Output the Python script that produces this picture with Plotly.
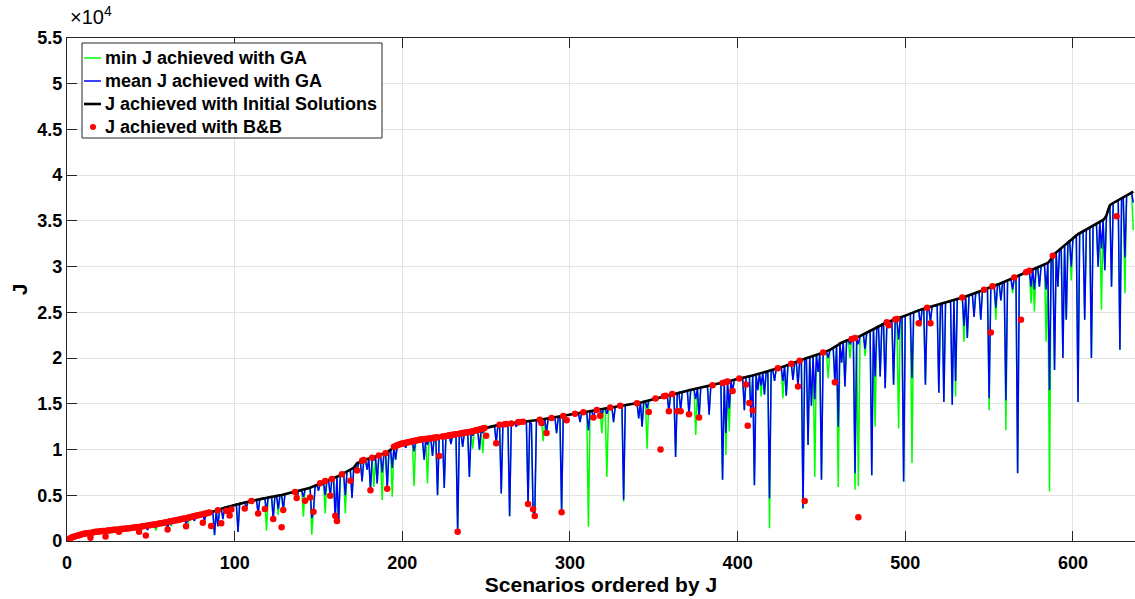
import plotly.graph_objects as go

# ---------------- data (J values in thousands) ----------------
J_init = [
0.20,0.30,0.40,0.46,0.52,0.57,0.62,0.67,0.75,0.79,
0.82,0.85,0.88,0.91,0.94,0.97,1.00,1.02,1.04,1.06,
1.08,1.10,1.12,1.14,1.16,1.18,1.20,1.22,1.24,1.26,
1.28,1.30,1.32,1.34,1.36,1.38,1.40,1.42,1.45,1.47,
1.50,1.52,1.55,1.57,1.60,1.63,1.66,1.69,1.72,1.75,
1.78,1.81,1.84,1.87,1.90,1.93,1.96,2.00,2.04,2.08,
2.12,2.16,2.20,2.24,2.27,2.30,2.34,2.38,2.42,2.46,
2.50,2.54,2.58,2.63,2.68,2.73,2.77,2.81,2.85,2.89,
2.93,2.97,3.01,3.06,3.11,3.16,3.21,3.26,3.31,3.36,
3.45,3.55,3.60,3.65,3.70,3.75,3.80,3.86,3.92,3.98,
4.03,4.08,4.12,4.15,4.18,4.22,4.26,4.30,4.34,4.38,
4.43,4.48,4.52,4.56,4.60,4.64,4.68,4.72,4.76,4.80,
4.83,4.86,4.89,4.92,4.95,4.98,5.01,5.04,5.08,5.12,
5.16,5.20,5.24,5.28,5.32,5.36,5.40,5.44,5.49,5.54,
5.60,5.66,5.71,5.76,5.83,5.90,5.98,6.06,6.14,6.22,
6.31,6.40,6.48,6.55,6.62,6.68,6.73,6.78,6.85,6.93,
7.02,7.11,7.20,7.30,7.40,7.50,7.60,7.70,7.80,7.90,
8.00,8.25,8.50,8.60,8.70,8.78,8.86,8.91,8.96,9.00,
9.05,9.11,9.17,9.23,9.29,9.35,9.41,9.47,9.53,9.60,
9.70,9.85,10.00,10.15,10.30,10.38,10.46,10.54,10.60,10.65,
10.70,10.74,10.78,10.82,10.86,10.90,10.94,10.98,11.02,11.06,
11.10,11.12,11.14,11.16,11.18,11.20,11.22,11.25,11.28,11.31,
11.34,11.37,11.40,11.43,11.46,11.49,11.52,11.55,11.58,11.61,
11.64,11.67,11.70,11.73,11.76,11.80,11.83,11.86,11.89,11.92,
11.95,12.00,12.05,12.10,12.15,12.20,12.25,12.30,12.35,12.40,
12.45,12.50,12.55,12.58,12.61,12.64,12.67,12.70,12.72,12.74,
12.76,12.78,12.80,12.83,12.86,12.89,12.92,12.95,12.98,13.00,
13.02,13.04,13.06,13.08,13.10,13.12,13.14,13.16,13.18,13.20,
13.22,13.25,13.28,13.31,13.34,13.37,13.40,13.43,13.46,13.49,
13.52,13.55,13.58,13.61,13.64,13.67,13.70,13.73,13.76,13.80,
13.84,13.88,13.92,13.96,14.00,14.03,14.06,14.09,14.12,14.15,
14.18,14.21,14.24,14.27,14.30,14.33,14.36,14.40,14.44,14.48,
14.51,14.54,14.57,14.60,14.63,14.66,14.69,14.72,14.75,14.78,
14.81,14.84,14.87,14.90,14.93,14.96,14.99,15.02,15.04,15.06,
15.08,15.13,15.18,15.23,15.28,15.33,15.38,15.43,15.48,15.53,
15.58,15.63,15.68,15.73,15.78,15.83,15.88,15.93,15.98,16.03,
16.08,16.12,16.16,16.20,16.24,16.28,16.32,16.36,16.40,16.44,
16.48,16.52,16.56,16.60,16.64,16.68,16.72,16.76,16.80,16.84,
16.88,16.92,16.96,17.00,17.04,17.08,17.12,17.16,17.20,17.24,
17.28,17.33,17.38,17.43,17.48,17.53,17.58,17.63,17.68,17.73,
17.78,17.82,17.86,17.90,17.94,17.98,18.02,18.06,18.10,18.14,
18.19,18.24,18.29,18.34,18.39,18.44,18.49,18.54,18.59,18.64,
18.70,18.76,18.82,18.88,18.94,19.00,19.06,19.12,19.18,19.24,
19.30,19.37,19.44,19.51,19.58,19.65,19.72,19.79,19.86,19.93,
20.00,20.06,20.12,20.18,20.24,20.30,20.36,20.42,20.48,20.54,
20.60,20.66,20.72,20.80,20.90,21.00,21.10,21.20,21.30,21.45,
21.60,21.70,21.78,21.85,21.92,21.98,22.03,22.08,22.14,22.20,
22.26,22.32,22.40,22.50,22.60,22.70,22.80,22.90,23.00,23.10,
23.20,23.30,23.40,23.50,23.60,23.70,23.80,23.86,23.92,23.98,
24.04,24.10,24.16,24.22,24.28,24.34,24.40,24.46,24.52,24.60,
24.70,24.78,24.86,24.94,25.02,25.10,25.17,25.24,25.30,25.35,
25.40,25.45,25.50,25.55,25.60,25.65,25.70,25.75,25.80,25.85,
25.90,25.95,26.00,26.05,26.10,26.15,26.20,26.26,26.32,26.38,
26.44,26.50,26.56,26.62,26.68,26.74,26.80,26.86,26.92,26.98,
27.04,27.10,27.16,27.22,27.28,27.40,27.48,27.56,27.64,27.72,
27.80,27.86,27.92,27.98,28.04,28.10,28.18,28.26,28.34,28.42,
28.50,28.58,28.66,28.74,28.82,28.90,28.98,29.06,29.14,29.22,
29.30,29.38,29.46,29.54,29.62,29.70,29.77,29.84,29.91,29.98,
30.05,30.12,30.19,30.26,30.40,30.60,30.90,31.20,31.40,31.56,
31.72,31.88,32.04,32.20,32.36,32.52,32.68,32.84,33.00,33.15,
33.30,33.45,33.55,33.65,33.75,33.85,33.95,34.05,34.15,34.25,
34.35,34.45,34.55,34.65,34.75,34.85,34.95,35.10,35.30,35.60,
36.20,36.70,36.85,36.95,37.05,37.15,37.25,37.35,37.45,37.55,
37.65,37.75,37.85,37.95,38.05,38.20]

# GA dips: scenario number, mean J, min J (thousands); elsewhere GA equals the initial solution
dip_scen = [23,43,48,53,60,62,71,72,76,82,88,90,93,97,102,107,114,119,123,126,129,137,141,146,147,
            150,154,157,160,162,166,170,173,176,179,181,183,185,188,191,194,196,202,207,213,215,218,
            221,225,229,233,236,240,242,246,248,256,259,264,268,275,277,278,279,284,286,292,295,306,
            311,314,319,322,326,332,341,343,346,359,363,366,371,375,377,383,391,393,395,397,404,408,
            410,412,414,416,419,422,427,429,433,436,439,442,444,446,448,450,454,458,460,462,464,467,
            470,472,476,480,482,485,488,493,496,499,504,509,512,515,520,523,528,530,535,537,541,545,
            550,554,557,560,564,567,575,577,580,584,586,589,591,594,596,599,603,607,611,615,617,619,
            623,628,631,636]
dip_mean = [0.8,1.1,1.2,1.5,1.4,1.9,1.9,2.2,2.2,2.2,0.65,1.6,2.4,2.9,1.0,3.6,3.0,3.3,2.4,3.5,3.4,4.5,4.8,2.5,3.2,
            5.5,5.0,4.95,2.3,1.95,5.0,4.7,7.7,6.5,7.8,5.6,8.8,6.3,7.5,5.7,8.0,8.9,10.2,9.8,8.9,10.5,9.3,
            5.0,5.8,10.6,1.0,10.3,7.0,11.5,10.0,11.8,10.7,5.2,2.7,12.5,4.1,12.8,3.2,2.9,12.6,11.8,11.8,3.2,13.0,
            12.1,13.5,13.8,13.9,13.0,4.5,13.4,12.5,14.5,14.2,9.2,14.3,13.85,15.5,13.4,13.8,6.7,11.8,14.5,16.4,14.3,13.5,
            6.1,16.5,17.0,16.0,4.67,17.5,17.5,15.9,17.6,16.9,3.6,10.5,14.8,15.5,18.5,6.7,20.0,17.35,12.5,19.5,16.9,21.5,
            7.4,21.5,21.0,7.2,18.0,18.0,16.7,17.1,22.0,6.5,17.8,23.5,17.1,24.0,16.2,15.2,14.9,17.5,23.5,22.2,24.5,24.2,
            15.6,25.5,26.3,15.4,27.5,7.4,27.8,27.5,27.8,27.5,16.5,18.7,27.8,20.0,24.2,30.0,15.2,24.2,20.0,30.0,32.0,29.6,
            27.8,20.9,31.0,37.0]
dip_min = [0.8,1.1,1.2,1.15,1.4,1.6,1.9,1.4,2.2,2.2,0.62,1.6,2.4,2.9,1.0,3.6,3.0,1.13,2.4,2.84,3.4,4.5,2.66,0.7,3.2,
           5.5,3.0,4.95,2.3,1.95,3.0,4.7,7.7,6.5,7.8,5.6,5.9,6.3,4.5,5.7,4.84,8.9,10.2,6.0,8.9,6.3,9.3,
           5.0,5.8,10.6,1.0,10.3,7.0,10.1,9.9,9.6,10.7,5.2,2.7,12.5,4.0,12.8,3.2,2.75,10.9,11.8,11.8,3.15,13.0,
           1.56,13.5,11.8,7.0,13.0,4.3,13.4,12.5,10.1,14.2,9.2,14.3,13.85,11.6,13.4,13.8,6.7,9.4,12.0,16.4,14.3,13.5,
           6.1,16.5,15.8,16.0,1.39,17.5,15.6,15.9,17.6,16.9,3.5,10.5,14.8,7.0,18.5,6.7,17.8,17.35,5.9,19.5,16.9,20.0,
           5.6,6.0,20.2,7.2,12.5,18.0,16.7,17.1,12.3,6.5,8.5,23.5,17.1,24.0,16.2,15.2,14.9,15.8,21.8,22.2,24.5,24.2,
           14.3,24.2,26.3,12.1,27.1,7.4,26.0,25.1,27.8,21.8,5.4,18.7,27.8,20.0,24.2,28.5,15.2,24.2,20.0,30.0,25.3,29.6,
           27.8,20.9,27.1,34.0]

# B&B: scenarios where B&B equals the initial-solution value, and scenarios where it is lower
bb_equal_scen = (list(range(1, 86)) + [90, 110, 136, 151, 154, 158, 164, 176, 177, 182, 186, 190]
                 + list(range(195, 222)) + list(range(224, 250))
                 + [258, 261, 262, 265, 269, 270, 272, 282, 289, 296, 303, 308, 316, 324, 330, 340, 351,
                    356, 357, 361, 385, 391, 393, 394, 401, 424, 432, 437, 451, 468, 470, 489, 494, 495,
                    513, 534, 547, 552, 565, 572, 574, 588])
bb_low_scen = [14,23,31,43,47,60,71,81,86,92,95,97,98,106,114,118,123,128,129,137,142,145,147,157,160,161,
               169,173,181,191,222,233,250,256,275,278,279,283,286,295,298,314,318,347,354,359,364,366,371,
               377,397,405,406,407,409,436,440,458,472,490,508,515,551,569,626]
bb_low_val = [0.35,0.5,1.0,1.0,0.6,1.25,1.6,2.0,1.65,1.95,3.3,2.8,3.45,3.55,3.0,3.5,2.4,1.5,3.4,4.7,4.4,4.75,
              3.2,4.95,2.75,2.2,6.6,7.7,5.55,5.7,9.3,1.0,11.5,10.7,4.05,3.47,2.73,12.9,11.8,3.14,13.2,13.5,13.7,
              14.1,10.0,14.2,14.2,14.2,13.85,13.5,16.4,17.1,12.6,15.1,14.3,16.9,4.37,17.35,2.6,23.6,23.8,23.8,
              22.8,24.2,35.5]

x_ticks = [0, 100, 200, 300, 400, 500, 600]
y_ticks = [0, 0.5, 1, 1.5, 2, 2.5, 3, 3.5, 4, 4.5, 5, 5.5]
y_ticktext = ["0", "0.5", "1", "1.5", "2", "2.5", "3", "3.5", "4", "4.5", "5", "5.5"]

series_names = ["min J achieved with GA", "mean J achieved with GA",
                "J achieved with Initial Solutions", "J achieved with B&B"]
series_colors = ["#00ff00", "#0000ff", "#000000", "#ff0000"]

# ---------------- build series ----------------
N = len(J_init)
scen = list(range(1, N + 1))
mean_J = list(J_init)
min_J = list(J_init)
for s, m, mn in zip(dip_scen, dip_mean, dip_min):
    mean_J[s - 1] = m
    min_J[s - 1] = mn

low = dict(zip(bb_low_scen, bb_low_val))
bb = {s: J_init[s - 1] for s in bb_equal_scen if s not in low}
bb.update(low)
bb_x = sorted(bb)
bb_y = [bb[s] / 10 for s in bb_x]

to1e4 = lambda arr: [v / 10 for v in arr]

FONT = "Liberation Sans, Arial, Helvetica, sans-serif"
fig = go.Figure()
fig.add_trace(go.Scatter(x=scen, y=to1e4(min_J), mode="lines", name=series_names[0],
                         line=dict(color=series_colors[0], width=1.5)))
fig.add_trace(go.Scatter(x=scen, y=to1e4(mean_J), mode="lines", name=series_names[1],
                         line=dict(color=series_colors[1], width=1.5)))
fig.add_trace(go.Scatter(x=scen, y=to1e4(J_init), mode="lines", name=series_names[2],
                         line=dict(color=series_colors[2], width=2.6)))
fig.add_trace(go.Scatter(x=bb_x, y=bb_y, mode="markers", name=series_names[3],
                         marker=dict(color=series_colors[3], size=6.5, line=dict(width=0))))

axis_common = dict(showgrid=True, gridcolor="#e3e3e3", gridwidth=1, zeroline=False,
                   showline=True, linecolor="#262626", linewidth=1.2,
                   ticks="inside", ticklen=10, tickwidth=1, tickcolor="#262626",
                   tickfont=dict(family=FONT, size=18, color="#000000", weight="bold"))

fig.update_xaxes(range=[0, 637], tickvals=x_ticks, mirror="ticks", ticklabelstandoff=5,
                 title=dict(text="Scenarios ordered by J", standoff=2,
                            font=dict(family=FONT, size=21, color="#000000", weight="bold")),
                 **axis_common)
fig.update_yaxes(range=[0, 5.5], tickvals=y_ticks, ticktext=y_ticktext,
                 title=dict(text="J", standoff=3,
                            font=dict(family=FONT, size=21, color="#000000", weight="bold")),
                 **axis_common)

fig.add_annotation(x=0, y=1, xref="paper", yref="paper", xanchor="left", yanchor="bottom",
                   text="×10<sup>4</sup>", showarrow=False, xshift=1, yshift=8,
                   font=dict(family=FONT, size=20, color="#000000"))

# ---------------- legend box (drawn in plot-paper coordinates) ----------------
PL, PW, PB, PH = 67, 1068, 541, 503          # plot-area left, width, bottom, height (px)
px = lambda v: (v - PL) / PW
py = lambda v: (PB - v) / PH
shapes = [dict(type="rect", xref="paper", yref="paper", x0=px(82), x1=px(382), y0=py(138), y1=py(43),
               line=dict(color="#262626", width=1), fillcolor="white", layer="above")]
row_y = [58, 81, 104, 127]
for k in range(4):
    if k < 3:
        shapes.append(dict(type="line", xref="paper", yref="paper", x0=px(84), x1=px(101),
                           y0=py(row_y[k]), y1=py(row_y[k]), layer="above",
                           line=dict(color=series_colors[k], width=1.5 if k < 2 else 2.6)))
    else:
        shapes.append(dict(type="circle", xref="paper", yref="paper", xsizemode="pixel",
                           ysizemode="pixel", xanchor=px(93), yanchor=py(row_y[k]),
                           x0=-3, x1=3, y0=-3, y1=3, layer="above",
                           fillcolor=series_colors[3], line=dict(width=0)))
    fig.add_annotation(x=px(103), y=py(row_y[k]), xref="paper", yref="paper",
                       xanchor="left", yanchor="middle", text=series_names[k], showarrow=False,
                       font=dict(family=FONT, size=18, color="#000000", weight="bold"))

fig.update_layout(
    width=1135, height=599,
    margin=dict(l=PL, r=0, t=38, b=58),
    paper_bgcolor="white", plot_bgcolor="white",
    showlegend=False,
    shapes=shapes,
)

fig.write_html("out.html")
